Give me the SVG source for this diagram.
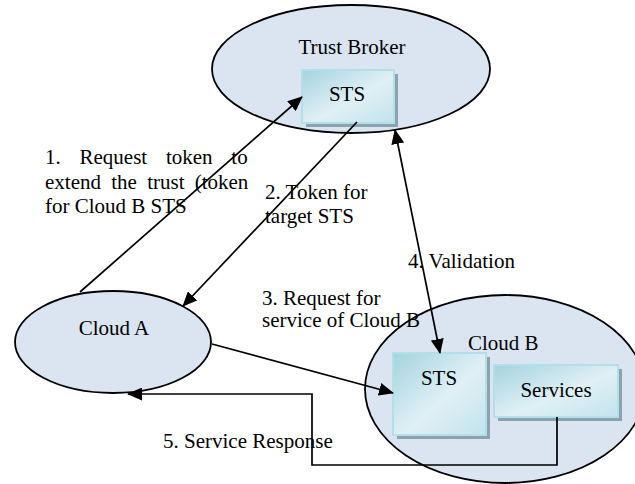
<svg xmlns="http://www.w3.org/2000/svg" width="635" height="484" viewBox="0 0 635 484">
  <defs>
    <linearGradient id="boxfill" x1="0" y1="0" x2="1" y2="1">
      <stop offset="0" stop-color="#a3d3e0"/>
      <stop offset="0.55" stop-color="#e0f0f5"/>
      <stop offset="1" stop-color="#c2e3ec"/>
    </linearGradient>
    <marker id="arr" markerUnits="userSpaceOnUse" markerWidth="15" markerHeight="13" refX="14" refY="6.5" orient="auto-start-reverse">
      <path d="M0,0 L15,6.5 L0,13 z" fill="#000"/>
    </marker>
    <clipPath id="clip1">
      <rect x="0" y="140" width="249" height="90"/>
    </clipPath>
  </defs>
  <style>
    .cloud { fill: #dbe5f1; stroke: #000; stroke-width: 1.8; }
    .box { fill: url(#boxfill); stroke: #b2dfea; stroke-width: 2; }
    .shadow { fill: #8aa3ae; }
    text { font-family: "Liberation Serif", "Times New Roman", serif; font-size: 21px; fill: #000; }
    .c { text-anchor: middle; }
    .conn { fill: none; stroke: #000; stroke-width: 1.7; }
  </style>

  <g id="trust-broker">
    <ellipse class="cloud" cx="351" cy="69" rx="139" ry="64"/>
    <text class="c" x="352" y="54">Trust Broker</text>
  </g>
  <g id="tb-sts">
    <rect class="shadow" x="306" y="74" width="92" height="53"/>
    <rect class="box" x="302" y="70" width="92" height="53"/>
    <text class="c" x="347" y="101">STS</text>
  </g>

  <g id="cloud-a">
    <ellipse class="cloud" cx="113" cy="342" rx="98" ry="51"/>
    <text class="c" x="114" y="335">Cloud A</text>
  </g>

  <g id="cloud-b">
    <ellipse class="cloud" cx="505" cy="389" rx="140" ry="94"/>
    <text x="468" y="350">Cloud B</text>
  </g>
  <g id="cb-sts">
    <rect class="shadow" x="397" y="357" width="93" height="82"/>
    <rect class="box" x="393" y="353" width="93" height="82"/>
    <text class="c" x="439" y="385">STS</text>
  </g>
  <g id="cb-services">
    <rect class="shadow" x="498" y="369" width="124" height="52"/>
    <rect class="box" x="494" y="365" width="124" height="52"/>
    <text class="c" x="556" y="397">Services</text>
  </g>

  <g id="labels">
    <g clip-path="url(#clip1)">
      <text x="45" y="164" word-spacing="13.5">1. Request token to</text>
      <text x="45" y="189" word-spacing="5">extend the trust (token</text>
      <text x="45" y="213">for Cloud B STS</text>
    </g>
    <text x="265" y="199">2. Token for</text>
    <text x="265" y="223">target STS</text>
    <text x="262" y="305">3. Request for</text>
    <text x="262" y="327">service of Cloud B</text>
    <text x="408" y="268">4. Validation</text>
    <text x="163" y="448">5. Service Response</text>
  </g>

  <g id="connectors">
    <path class="conn" d="M80,292 L302,97" marker-end="url(#arr)"/>
    <path class="conn" d="M357,122 L183,306" marker-end="url(#arr)"/>
    <path class="conn" d="M212,344 L393,393" marker-end="url(#arr)"/>
    <path class="conn" d="M395,130 L440,353" marker-start="url(#arr)" marker-end="url(#arr)"/>
    <path class="conn" d="M557,417 V465 H312 V394 H128" marker-end="url(#arr)"/>
  </g>
</svg>
